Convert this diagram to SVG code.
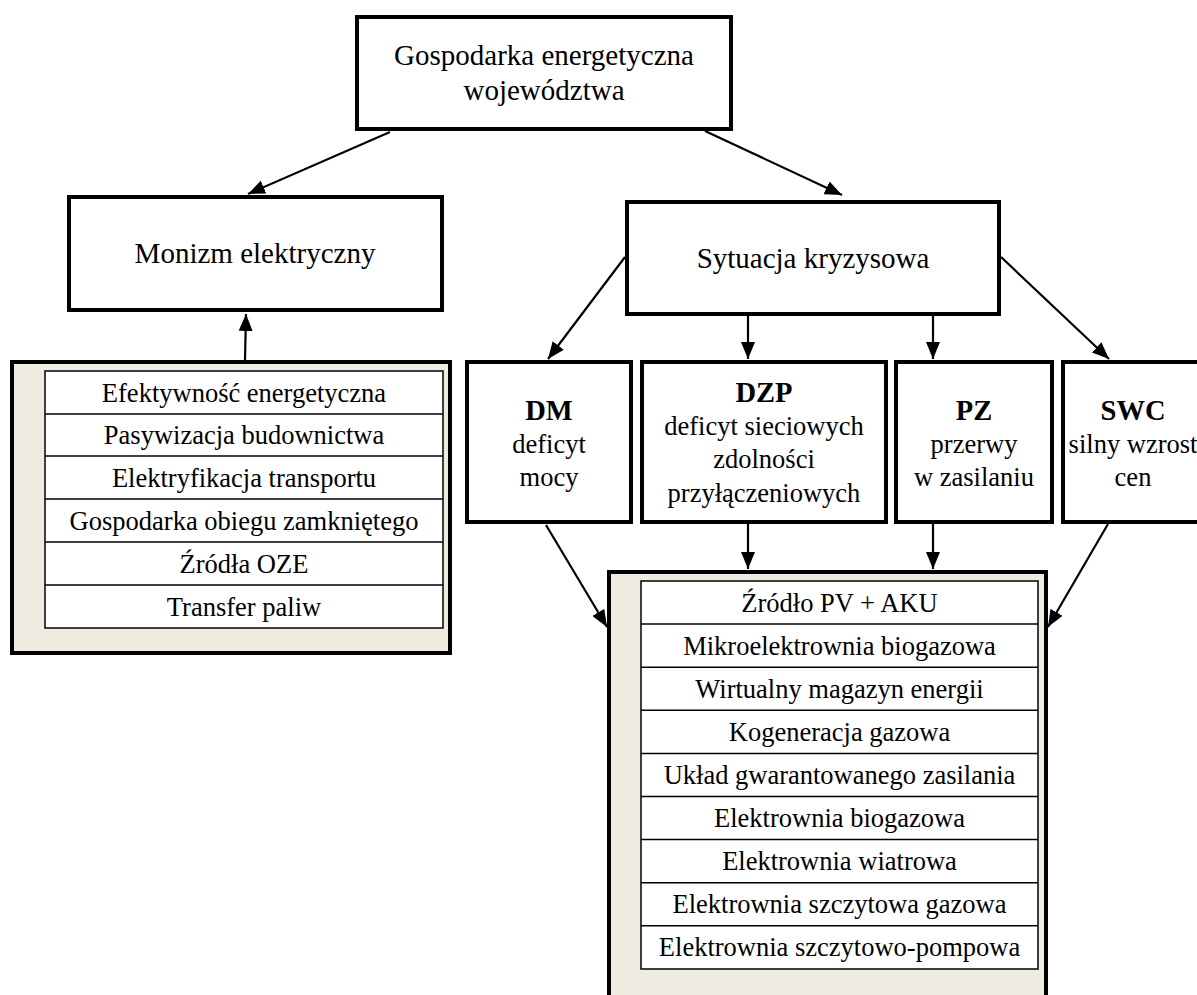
<svg xmlns="http://www.w3.org/2000/svg" width="1197" height="995" viewBox="0 0 1197 995">
<style>
.box{fill:#fff;stroke:#000;stroke-width:4;stroke-linejoin:miter}
.panel{fill:#EEECE1;stroke:#000;stroke-width:4}
.tbl{fill:#fff;stroke:#000;stroke-width:1.5}
.row{stroke:#000;stroke-width:1.5}
text{font-family:'Liberation Serif','Times New Roman',Times,'DejaVu Serif',serif;fill:#000;text-anchor:middle}
.big{font-size:29px}
.item{font-size:26.5px}
.b{font-size:28.5px;font-weight:bold}
.c{stroke:#000;stroke-width:2.2;fill:none;marker-end:url(#ah)}
</style>
<defs>
<marker id="ah" markerUnits="userSpaceOnUse" markerWidth="18" markerHeight="14" refX="17" refY="7" orient="auto" viewBox="0 0 18 14">
<path d="M0,0 L17,7 L0,14 z" fill="#000"/>
</marker>
</defs>
<rect width="1197" height="995" fill="#fff"/>

<g id="connectors">
<line class="c" x1="390" y1="132" x2="248" y2="194"/>
<line class="c" x1="705" y1="131" x2="842" y2="195"/>
<line class="c" x1="245" y1="360" x2="246" y2="314"/>
<line class="c" x1="625" y1="257" x2="548" y2="359"/>
<line class="c" x1="748" y1="316" x2="748" y2="359"/>
<line class="c" x1="933" y1="316" x2="933" y2="359"/>
<line class="c" x1="1001" y1="257" x2="1109" y2="359"/>
<line class="c" x1="546" y1="525" x2="607" y2="627"/>
<line class="c" x1="748" y1="524" x2="748" y2="569"/>
<line class="c" x1="933" y1="524" x2="933" y2="569"/>
<line class="c" x1="1108" y1="524" x2="1048" y2="627"/>
</g>

<g id="gospodarka">
<rect class="box" x="357" y="17" width="374" height="112"/>
<text class="big" x="544" y="65" font-family="Liberation Serif, serif">Gospodarka energetyczna</text>
<text class="big" x="544" y="100" font-family="Liberation Serif, serif">województwa</text>
</g>

<g id="monizm">
<rect class="box" x="69" y="197" width="373" height="113"/>
<text class="big" x="255" y="263">Monizm elektryczny</text>
</g>

<g id="monizm-list">
<rect class="panel" x="12" y="362" width="438" height="291"/>
<rect class="tbl" x="45" y="371" width="398" height="257"/>
<line class="row" x1="45" y1="414" x2="443" y2="414"/>
<line class="row" x1="45" y1="456" x2="443" y2="456"/>
<line class="row" x1="45" y1="499" x2="443" y2="499"/>
<line class="row" x1="45" y1="542" x2="443" y2="542"/>
<line class="row" x1="45" y1="585" x2="443" y2="585"/>
<text class="item" x="244" y="401.5">Efektywność energetyczna</text>
<text class="item" x="244" y="444">Pasywizacja budownictwa</text>
<text class="item" x="244" y="486.5">Elektryfikacja transportu</text>
<text class="item" x="244" y="529.5">Gospodarka obiegu zamkniętego</text>
<text class="item" x="244" y="572.5">Źródła OZE</text>
<text class="item" x="244" y="615.5">Transfer paliw</text>
</g>

<g id="sytuacja">
<rect class="box" x="627" y="202" width="372" height="112"/>
<text class="big" x="813" y="268">Sytuacja kryzysowa</text>
</g>

<g id="dm">
<rect class="box" x="467" y="362" width="164" height="160"/>
<text class="b" x="549" y="420">DM</text>
<text class="item" x="549" y="453">deficyt</text>
<text class="item" x="549" y="486">mocy</text>
</g>

<g id="dzp">
<rect class="box" x="642" y="362" width="244" height="160"/>
<text class="b" x="764" y="402">DZP</text>
<text class="item" x="764" y="435">deficyt sieciowych</text>
<text class="item" x="764" y="468">zdolności</text>
<text class="item" x="764" y="502">przyłączeniowych</text>
</g>

<g id="pz">
<rect class="box" x="896" y="362" width="156" height="160"/>
<text class="b" x="974" y="420">PZ</text>
<text class="item" x="974" y="453">przerwy</text>
<text class="item" x="974" y="486">w zasilaniu</text>
</g>

<g id="swc">
<rect class="box" x="1063" y="362" width="142" height="160"/>
<text class="b" x="1133" y="420">SWC</text>
<text class="item" x="1133" y="453">silny wzrost</text>
<text class="item" x="1133" y="486">cen</text>
</g>

<g id="kryzys-list">
<rect class="panel" x="609" y="572" width="437" height="440"/>
<rect class="tbl" x="641" y="581" width="397" height="388"/>
<line class="row" x1="641" y1="624.1" x2="1038" y2="624.1"/>
<line class="row" x1="641" y1="667.2" x2="1038" y2="667.2"/>
<line class="row" x1="641" y1="710.3" x2="1038" y2="710.3"/>
<line class="row" x1="641" y1="753.4" x2="1038" y2="753.4"/>
<line class="row" x1="641" y1="796.5" x2="1038" y2="796.5"/>
<line class="row" x1="641" y1="839.6" x2="1038" y2="839.6"/>
<line class="row" x1="641" y1="882.7" x2="1038" y2="882.7"/>
<line class="row" x1="641" y1="925.8" x2="1038" y2="925.8"/>
<text class="item" x="839.5" y="611.5">Źródło PV + AKU</text>
<text class="item" x="839.5" y="654.6">Mikroelektrownia biogazowa</text>
<text class="item" x="839.5" y="697.7">Wirtualny magazyn energii</text>
<text class="item" x="839.5" y="740.8">Kogeneracja gazowa</text>
<text class="item" x="839.5" y="783.9">Układ gwarantowanego zasilania</text>
<text class="item" x="839.5" y="827">Elektrownia biogazowa</text>
<text class="item" x="839.5" y="870.1">Elektrownia wiatrowa</text>
<text class="item" x="839.5" y="913.2">Elektrownia szczytowa gazowa</text>
<text class="item" x="839.5" y="956.3">Elektrownia szczytowo-pompowa</text>
</g>
</svg>
